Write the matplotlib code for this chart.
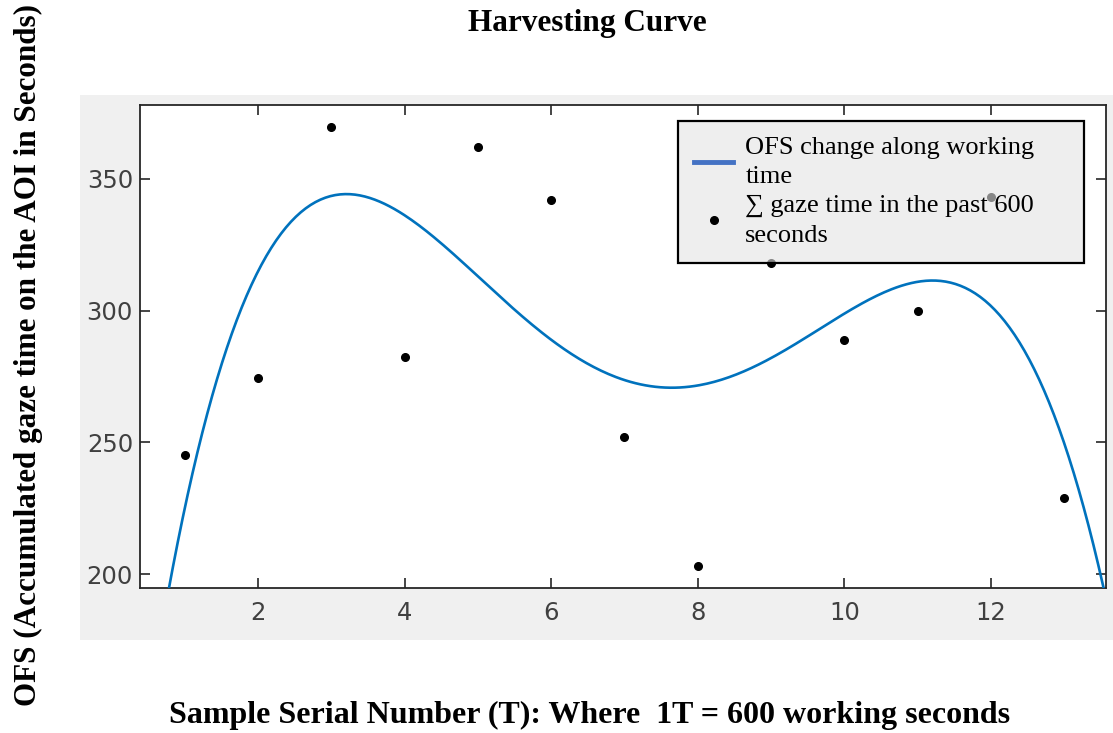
import numpy as np
import matplotlib
matplotlib.use("Agg")
import matplotlib.pyplot as plt
from matplotlib.patches import Rectangle

# Sample serial numbers (T) and accumulated gaze time
samples = [1, 2, 3, 4, 5, 6, 7, 8, 9, 10, 11, 12, 13]
gaze_time = [245, 274.5, 369.5, 282.5, 362, 342, 252, 203, 318, 289, 300, 343, 229]

x_ticks = [2, 4, 6, 8, 10, 12]
y_ticks = [200, 250, 300, 350]

serif = ["Liberation Serif", "DejaVu Serif"]

fig = plt.figure(figsize=(11.13, 7.33), dpi=100)
fig.patch.set_facecolor("white")

# MATLAB-style grey figure panel
fig.patches.append(Rectangle((80 / 1113, 1 - 640 / 733), 1033 / 1113, 545 / 733,
                             transform=fig.transFigure, facecolor="#f0f0f0",
                             edgecolor="none", zorder=-5))

ax = fig.add_axes([140 / 1113, 1 - 588 / 733, 966 / 1113, 483 / 733])
ax.set_facecolor("white")

# polynomial fit of the samples (the plotted curve)
coef = np.polyfit(samples, gaze_time, 4)
xs = np.linspace(0.3, 13.7, 400)
ax.plot(xs, np.polyval(coef, xs), color="#0072bd", lw=1.9,
        label="OFS change along working\ntime", zorder=3)
ax.plot(samples, gaze_time, "o", color="black", ms=5.5,
        label="\u2211 gaze time in the past 600\nseconds", zorder=2)

ax.set_xlim(0.39, 13.57)
ax.set_ylim(194.7, 378)
ax.set_xticks(x_ticks)
ax.set_yticks(y_ticks)
ax.tick_params(direction="in", length=7, width=1.2, colors="#262626",
               labelcolor="#404040", labelsize=17.5, top=True, right=True, pad=5)
ax.tick_params(axis="x", pad=9)
for s in ax.spines.values():
    s.set_color("#262626")
    s.set_linewidth(1.3)

leg = ax.legend(loc="upper left", mode="expand",
                bbox_to_anchor=(678 / 1113, 1 - 266 / 733, 406 / 1113, 145 / 733),
                bbox_transform=fig.transFigure, prop={"family": serif, "size": 19},
                fancybox=False, facecolor=(0.89, 0.89, 0.89, 0.6),
                edgecolor="black", handlelength=1.5, handletextpad=0.45,
                borderpad=0.6, labelspacing=0.25, borderaxespad=0)
frame = leg.get_frame()
frame.set_alpha(None)
frame.set_facecolor((0.89, 0.89, 0.89, 0.6))
frame.set_edgecolor("black")
frame.set_linewidth(1.6)
for t in leg.get_texts():
    t.set_linespacing(1.45)
leg.legend_handles[0].set_color("#4472c4")
leg.legend_handles[0].set_linewidth(3.5)

fig.text(587 / 1113, 1 - 24 / 733, "Harvesting Curve", ha="center", va="center",
         family=serif, weight="bold", fontsize=22.5)
fig.text(590 / 1113, 1 - 715 / 733, "Sample Serial Number (T): Where  1T = 600 working seconds",
         ha="center", va="center", family=serif, weight="bold", fontsize=23)
fig.text(28 / 1113, 1 - 355 / 733, "OFS (Accumulated gaze time on the AOI in Seconds)",
         ha="center", va="center", rotation=90, family=serif, weight="bold", fontsize=22.4)

fig.savefig("out.png", dpi=100)
